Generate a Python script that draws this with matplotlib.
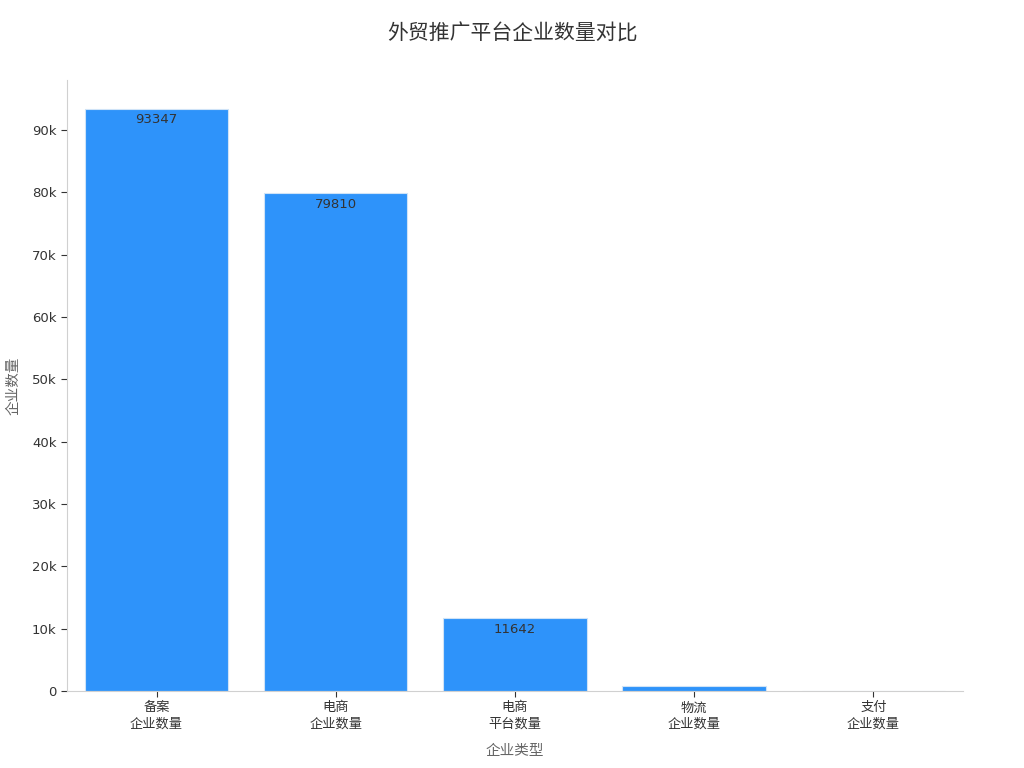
import matplotlib
matplotlib.use("Agg")
import matplotlib.pyplot as plt
from matplotlib.ticker import FuncFormatter

plt.rcParams['font.family'] = ['Noto Sans CJK SC', 'DejaVu Sans']

categories = ["备案\n企业数量", "电商\n企业数量", "电商\n平台数量", "物流\n企业数量", "支付\n企业数量"]
values = [93347, 79810, 11642, 735, 30]
title = "外贸推广平台企业数量对比"

fig = plt.figure(figsize=(10.24, 7.68), dpi=100)
ax = fig.add_axes([0.0654, 0.1003, 0.8750, 0.7957])

x = list(range(len(categories)))
bars = ax.bar(x, values, width=0.8, color="#2E93FA", edgecolor="#cfe3f7", linewidth=0.8)

ax.set_xlim(-0.5, len(categories) - 0.5)
ax.set_ylim(0, max(values) * 1.05)
ax.set_yticks(range(0, 100000, 10000))
ax.yaxis.set_major_formatter(FuncFormatter(lambda v, p: "0" if v == 0 else f"{int(v/1000)}k"))
ax.set_xticks(x)
ax.set_xticklabels(categories, fontsize=9.5, color="#333333", linespacing=1.3)
ax.tick_params(axis='y', labelsize=9.5, labelcolor="#333333", color="#333333", length=4)
ax.tick_params(axis='x', color="#333333", length=4)
for lbl in ax.get_yticklabels():
    lbl.set_family(['DejaVu Sans'])

for s in ["top", "right"]:
    ax.spines[s].set_visible(False)
for s in ["left", "bottom"]:
    ax.spines[s].set_color("#d0d0d0")

for xi, v, b in zip(x, values, bars):
    t = ax.annotate(str(v), (xi, v), xytext=(0, -3), textcoords="offset points",
                    ha="center", va="top", fontsize=9.5, color="#333333",
                    family=['DejaVu Sans'])
    t.set_clip_path(b)

ax.set_xlabel("企业类型", fontsize=10.5, color="#666666", labelpad=10)
ax.set_ylabel("企业数量", fontsize=10.5, color="#666666", labelpad=8)
fig.suptitle(title, fontsize=15, color="#333333", y=0.97)

fig.savefig("out.png", dpi=100)
